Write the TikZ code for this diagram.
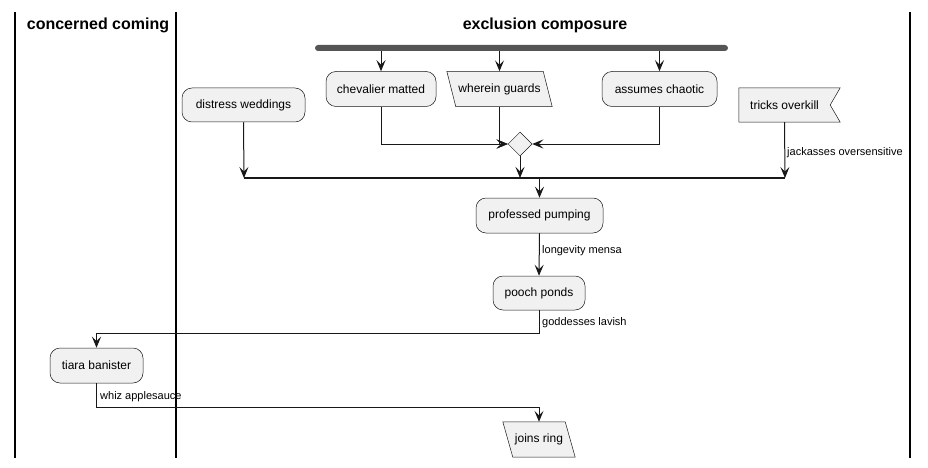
\documentclass[tikz,border=0pt]{standalone}
\usepackage{fontspec}
\setmainfont{Liberation Sans}
\usetikzlibrary{arrows.meta,shapes.geometric,backgrounds}
\definecolor{boxfill}{HTML}{F1F1F1}
\definecolor{boxline}{HTML}{181818}
\definecolor{barfill}{HTML}{555555}
\tikzset{
  x=1pt, y=-1pt,
  act/.style={rectangle, rounded corners=10pt, draw=boxline, line width=0.5pt, fill=boxfill,
    inner sep=0pt, minimum height=35pt, font=\fontsize{12}{14}\selectfont},
  plain/.style={rectangle, inner sep=0pt, minimum height=35pt, font=\fontsize{12}{14}\selectfont},
  shapeline/.style={draw=boxline, line width=0.5pt, fill=boxfill},
  arr/.style={draw=boxline, line width=1pt, -{Stealth[length=11pt,width=9pt,inset=4.5pt]}},
  conn/.style={draw=boxline, line width=1pt},
  lab/.style={anchor=west, inner sep=0pt, font=\fontsize{11}{13}\selectfont},
  lane/.style={draw=black, line width=1.4pt},
  title/.style={inner sep=0pt, font=\bfseries\fontsize{16}{19}\selectfont},
}
\begin{document}
\begin{tikzpicture}
\useasboundingbox (0,0) rectangle (928,468);
% swimlanes
\draw[lane] (15,12) -- (15,458);
\draw[lane] (176,12) -- (176,458);
\draw[lane] (910,12) -- (910,458);
\node[title] (t1) at (98,25) {concerned coming};
\node[title] (t2) at (545,25) {exclusion composure};
% fork bar
\node[rectangle, rounded corners=3pt, fill=barfill, minimum width=413pt, minimum height=6pt, inner sep=0pt] (fork) at (521.5,48) {};
% nodes
\node[act, minimum width=110pt] (c) at (381,89) {chevalier matted};
\node[plain, minimum width=105pt] (w) at (499.5,89) {wherein guards};
\node[act, minimum width=115pt] (a) at (659.5,89) {assumes chaotic};
\node[act, minimum width=123pt, minimum height=34pt] (dw) at (243.5,105) {distress weddings};
\node[plain, minimum width=91pt, minimum height=34pt] (t) at (784.5,105) {tricks overkill};
\node[diamond, draw=boxline, line width=0.5pt, fill=boxfill, minimum width=24pt, minimum height=24pt, inner sep=0pt] (d) at (520,144) {};
\node[act, minimum width=127pt] (pp) at (539.5,215.5) {professed pumping};
\node[act, minimum width=92pt, minimum height=34pt] (po) at (539,293) {pooch ponds};
\node[act, minimum width=93pt] (tb) at (96.5,365.5) {tiara banister};
\node[plain, minimum width=72pt] (jr) at (539,439.5) {joins ring};
% shapes behind texts
\begin{pgfonlayer}{background}
\path[shapeline] (w.north west) -- ([xshift=-9pt]w.north east) -- (w.south east) -- ([xshift=9pt]w.south west) -- cycle;
\path[shapeline] (t.north west) -- ([xshift=10pt]t.north east) -- (t.east) -- ([xshift=10pt]t.south east) -- (t.south west) -- cycle;
\path[shapeline] (jr.north west) -- ([xshift=-10pt]jr.north east) -- (jr.south east) -- ([xshift=10pt]jr.south west) -- cycle;
\end{pgfonlayer}
% merge line
\coordinate (mL) at (244,178);
\coordinate (mR) at (785,178);
\draw[conn, line width=1.2pt] (mL) -- (mR);
% connectors
\draw[arr] (fork.south -| c) -- (c.north);
\draw[arr] (fork.south -| w) -- (w.north);
\draw[arr] (fork.south -| a) -- (a.north);
\draw[arr] (c.south) |- (d.west);
\draw[arr] (w.south) |- (d.west);
\draw[arr] (a.south) |- (d.east);
\draw[arr] (d.south) -- (d.south |- mL);
\draw[arr] (dw.south) -- (mL);
\draw[arr] (t.south) -- (mR);
\node[lab] (l1) at (787,153) {jackasses oversensitive};
\draw[arr] (pp.north |- mL) -- (pp.north);
\draw[arr] (pp.south) -- (po.north);
\node[lab] (l2) at (542,251) {longevity mensa};
\coordinate (b1) at (539,333);
\draw[arr] (po.south) -- (b1) -| (tb.north);
\node[lab] (l3) at (542,323) {goddesses lavish};
\coordinate (b2) at (96.5,407);
\draw[arr] (tb.south) -- (b2) -| (jr.north);
\node[lab] (l4) at (100,397) {whiz applesauce};
\end{tikzpicture}
\end{document}
